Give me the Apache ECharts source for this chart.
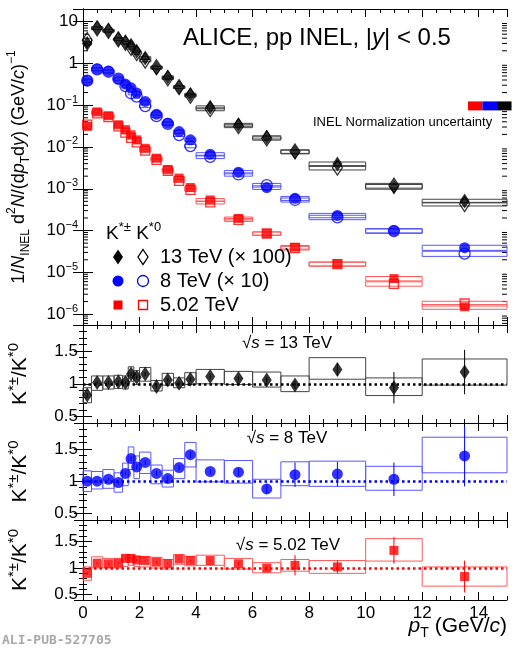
<!DOCTYPE html>
<html>
<head>
<meta charset="UTF-8">
<title>K*(892) charged / neutral, pp</title>
<script src="https://cdn.jsdelivr.net/npm/echarts@6/dist/echarts.min.js"></script>
<style>
  html, body { margin: 0; padding: 0; background: #fff; }
  #chart { width: 527px; height: 650px; }
</style>
</head>
<body>
<div id="chart"></div>
<script>
var FONT = 'Liberation Sans';

// pT bins (GeV/c)
var binLo = [0, 0.3, 0.7, 1.1, 1.4, 1.6, 1.8, 2.0, 2.4, 2.8, 3.2, 3.6, 4, 5, 6, 7, 8, 10, 12];
var binHi = [0.3, 0.7, 1.1, 1.4, 1.6, 1.8, 2.0, 2.4, 2.8, 3.2, 3.6, 4, 5, 6, 7, 8, 10, 12, 15];
var ptMid = [0.15, 0.5, 0.9, 1.25, 1.5, 1.7, 1.9, 2.2, 2.6, 3.0, 3.4, 3.8, 4.5, 5.5, 6.5, 7.5, 9, 11, 13.5];

// spectra as drawn (13 TeV x100, 8 TeV x10, 5.02 TeV x1)
var kch13 = [3.0, 7.0, 6.1, 3.85, 3.2, 2.7, 1.94, 1.35, 0.78, 0.47, 0.27, 0.18, 0.089, 0.034, 0.017, 0.0076, 0.0039, 0.00112, 0.00051];
var kz13  = [3.6, 6.9, 6.0, 3.75, 3.1, 2.35, 1.76, 1.17, 0.81, 0.44, 0.27, 0.168, 0.080, 0.0315, 0.016, 0.0078, 0.0032, 0.00119, 0.00043];
var kch8  = [0.385, 0.73, 0.65, 0.42, 0.32, 0.26, 0.195, 0.123, 0.061, 0.037, 0.0234, 0.0148, 0.0067, 0.0025, 0.00107, 0.00059, 0.00023, 0.0001, 0.000039];
var kz8   = [0.385, 0.72, 0.63, 0.43, 0.286, 0.193, 0.16, 0.095, 0.0545, 0.0356, 0.0193, 0.0105, 0.0058, 0.0022, 0.00122, 0.00054, 0.000207, 0.000097, 0.000028];
var kch5  = [0.031, 0.069, 0.056, 0.034, 0.026, 0.0195, 0.0148, 0.0093, 0.0054, 0.0029, 0.0018, 0.00107, 0.00054, 0.000195, 0.000085, 0.00004, 0.000016, 0.0000071, 0.0000015];
var kz5   = [0.0344, 0.0633, 0.0519, 0.0312, 0.022, 0.0165, 0.0129, 0.0082, 0.0049, 0.0027, 0.00154, 0.00094, 0.00047, 0.00018, 0.000085, 0.000038, 0.0000157, 0.0000053, 0.0000018];
// relative systematic uncertainty of the spectra
var sys13 = [0.08, 0.07, 0.07, 0.07, 0.07, 0.07, 0.07, 0.07, 0.07, 0.07, 0.07, 0.07, 0.08, 0.08, 0.09, 0.10, 0.12, 0.13, 0.10];
var sys8  = [0.09, 0.08, 0.08, 0.08, 0.08, 0.08, 0.08, 0.08, 0.08, 0.08, 0.08, 0.09, 0.09, 0.09, 0.10, 0.11, 0.12, 0.12, 0.14];
var sys5  = [0.09, 0.07, 0.07, 0.07, 0.07, 0.07, 0.07, 0.07, 0.07, 0.07, 0.07, 0.07, 0.08, 0.08, 0.09, 0.10, 0.11, 0.12, 0.13];

// ratios K*+-/K*0
var ratio13    = [0.83, 1.02, 1.02, 1.03, 1.02, 1.15, 1.10, 1.15, 0.96, 1.06, 1.01, 1.07, 1.11, 1.08, 1.06, 0.98, 1.22, 0.94, 1.18];
var ratio13Lo  = [0.71, 0.90, 0.92, 0.93, 0.92, 1.04, 0.99, 1.04, 0.89, 0.98, 0.94, 0.99, 1.00, 0.99, 0.95, 0.88, 1.07, 0.82, 0.98];
var ratio13Hi  = [0.94, 1.12, 1.12, 1.13, 1.12, 1.26, 1.20, 1.25, 1.05, 1.16, 1.09, 1.17, 1.22, 1.19, 1.18, 1.12, 1.40, 1.09, 1.38];
var ratio13Err = [0.03, 0.02, 0.02, 0.02, 0.02, 0.03, 0.03, 0.03, 0.03, 0.03, 0.03, 0.03, 0.03, 0.03, 0.04, 0.06, 0.10, 0.24, 0.34];

var ratio8    = [1.00, 1.00, 1.03, 0.98, 1.12, 1.35, 1.22, 1.29, 1.12, 1.04, 1.21, 1.41, 1.15, 1.14, 0.88, 1.10, 1.11, 1.03, 1.39];
var ratio8Lo  = [0.84, 0.88, 0.89, 0.83, 0.93, 1.18, 1.04, 1.12, 0.96, 0.91, 1.04, 1.22, 0.99, 0.97, 0.74, 0.93, 0.92, 0.86, 1.13];
var ratio8Hi  = [1.16, 1.15, 1.18, 1.13, 1.28, 1.53, 1.39, 1.45, 1.25, 1.17, 1.35, 1.60, 1.33, 1.32, 1.03, 1.30, 1.31, 1.23, 1.68];
var ratio8Err = [0.02, 0.02, 0.02, 0.03, 0.03, 0.04, 0.04, 0.04, 0.04, 0.04, 0.04, 0.05, 0.04, 0.06, 0.07, 0.19, 0.19, 0.26, 0.47];

var ratio5    = [0.90, 1.09, 1.08, 1.09, 1.18, 1.18, 1.15, 1.14, 1.11, 1.08, 1.17, 1.14, 1.14, 1.08, 1.00, 1.05, 1.02, 1.33, 0.84];
var ratio5Lo  = [0.77, 1.00, 1.00, 1.00, 1.03, 1.05, 1.03, 1.02, 1.00, 0.98, 1.07, 1.04, 1.05, 0.98, 0.91, 0.94, 0.90, 1.13, 0.66];
var ratio5Hi  = [1.02, 1.21, 1.18, 1.18, 1.23, 1.24, 1.22, 1.21, 1.20, 1.16, 1.25, 1.22, 1.24, 1.18, 1.10, 1.16, 1.14, 1.55, 1.02];
var ratio5Err = [0.03, 0.02, 0.02, 0.02, 0.02, 0.02, 0.02, 0.02, 0.02, 0.02, 0.02, 0.02, 0.02, 0.04, 0.05, 0.19, 0.12, 0.25, 0.30];

// INEL normalization uncertainty boxes (5.02, 8, 13 TeV)
var normColor = ['#ff0000', '#0000ff', '#000000'];
var normXLo = [13.62, 14.13, 14.65];
var normXHi = [14.13, 14.65, 15.16];
var normYLo = [0.075, 0.075, 0.075];
var normYHi = [0.123, 0.123, 0.123];

var yLogMin = 5.5e-7, yLogMax = 20;
var ratioMin = 0.4, ratioMax = 1.9;

var BLACK = '#000000', BLUE = '#0000ff', RED = '#ff0000';
var BOX_BLACK = '#444444', BOX_BLUE = '#5858ff', BOX_RED = '#ff5a5a';

function rich(size, supScale) {
  var s = Math.round(size * (supScale || 0.65));
  return {
    i:   { fontFamily: FONT, fontSize: size, fontStyle: 'italic', lineHeight: size + 8 },
    sup: { fontFamily: FONT, fontSize: s, lineHeight: s, verticalAlign: 'top' },
    sub: { fontFamily: FONT, fontSize: s, lineHeight: s, verticalAlign: 'bottom' }
  };
}

var grids = [
  { left: 83, right: 20, top: 9, height: 316 },
  { left: 83, right: 20, top: 325, height: 98 },
  { left: 83, right: 20, top: 423, height: 97 },
  { left: 83, right: 20, top: 520, height: 80 }
];
grids.forEach(function (g) { g.outerBoundsMode = 'none'; g.containLabel = false; });

var tickColor = { color: '#000', width: 1 };

function xAxisMajor(gi, pos, labels) {
  return {
    type: 'value', gridIndex: gi, position: pos, min: 0, max: 15, interval: 2,
    axisLine: { show: true, onZero: false, lineStyle: tickColor },
    axisTick: { show: true, inside: true, length: 8, lineStyle: tickColor },
    splitLine: { show: false },
    axisLabel: { show: labels, showMaxLabel: false, fontSize: 17, fontFamily: FONT, color: '#000', margin: 5 }
  };
}
function xAxisMinor(gi, pos) {
  return {
    type: 'value', gridIndex: gi, position: pos, min: 0, max: 15, interval: 0.5,
    axisLine: { show: false, onZero: false },
    axisTick: { show: true, inside: true, length: 4, lineStyle: tickColor },
    splitLine: { show: false }, axisLabel: { show: false }
  };
}
function yAxisLog(pos, labels) {
  return {
    type: 'log', logBase: 10, gridIndex: 0, position: pos, min: yLogMin, max: yLogMax,
    axisLine: { show: true, lineStyle: tickColor },
    axisTick: { show: true, inside: true, length: 10, lineStyle: tickColor },
    splitLine: { show: false }, minorTick: { show: false },
    name: labels ? '1/{i|N}{sub|INEL} d{sup|2}{i|N}/(d{i|p}{sub|T}d{i|y}) (GeV/{i|c}){sup|−1}' : '',
    nameLocation: 'middle', nameRotate: 90, nameGap: 51,
    nameTextStyle: { fontFamily: FONT, fontSize: 18, color: '#000', lineHeight: 26, rich: rich(18) },
    axisLabel: {
      show: labels, showMinLabel: false, showMaxLabel: false, margin: 5,
      fontFamily: FONT, fontSize: 17, color: '#000', lineHeight: 22, rich: rich(17),
      formatter: function (v) {
        var e = Math.round(Math.log10(v));
        if (e === 0) return '1';
        if (e === 1) return '10';
        return '10{sup|' + (e < 0 ? '−' : '') + Math.abs(e) + '}';
      }
    }
  };
}
function yAxisRatioMajor(gi, pos, labels) {
  return {
    type: 'value', gridIndex: gi, position: pos, min: ratioMin, max: ratioMax, splitNumber: 3,
    axisLine: { show: true, lineStyle: tickColor },
    axisTick: { show: true, inside: true, length: 9, lineStyle: tickColor },
    splitLine: { show: false },
    name: labels ? 'K{sup|*±}/K{sup|*0}' : '',
    nameLocation: 'middle', nameRotate: 90, nameGap: 49,
    nameTextStyle: { fontFamily: FONT, fontSize: 21, color: '#000', lineHeight: 28, rich: rich(21, 0.72) },
    axisLabel: { show: labels, showMinLabel: false, showMaxLabel: false, margin: 5, fontFamily: FONT, fontSize: 17, color: '#000' }
  };
}
function yAxisRatioMinor(gi, pos) {
  return {
    type: 'value', gridIndex: gi, position: pos, min: ratioMin, max: ratioMax, interval: 0.1,
    axisLine: { show: false },
    axisTick: { show: true, inside: true, length: 4, lineStyle: tickColor },
    splitLine: { show: false }, axisLabel: { show: false }
  };
}

var xAxes = [], yAxes = [], ref = [];
grids.forEach(function (g, i) {
  var xi = xAxes.length, yi = yAxes.length;
  xAxes.push(xAxisMajor(i, 'bottom', i === 3), xAxisMinor(i, 'bottom'), xAxisMajor(i, 'top', false), xAxisMinor(i, 'top'));
  if (i === 0) {
    yAxes.push(yAxisLog('left', true), yAxisLog('right', false));
  } else {
    yAxes.push(yAxisRatioMajor(i, 'left', true), yAxisRatioMinor(i, 'left'), yAxisRatioMajor(i, 'right', false), yAxisRatioMinor(i, 'right'));
  }
  ref.push({ x: xi, y: yi });
});

function boxRender(color) {
  return function (params, api) {
    var a = api.coord([api.value(0), api.value(3)]);
    var b = api.coord([api.value(1), api.value(2)]);
    return {
      type: 'rect',
      shape: { x: a[0], y: a[1], width: b[0] - a[0], height: b[1] - a[1] },
      style: { fill: 'none', stroke: color, lineWidth: 1 }
    };
  };
}
function boxSeries(gi, lo, hi, color) {
  return {
    type: 'custom', xAxisIndex: ref[gi].x, yAxisIndex: ref[gi].y, z: 2, silent: true,
    encode: { x: [0, 1], y: [2, 3] },
    data: binLo.map(function (b, k) { return [b, binHi[k], lo[k], hi[k]]; }),
    renderItem: boxRender(color)
  };
}
function relBoxSeries(vals, rel, color) {
  return boxSeries(0,
    vals.map(function (v, k) { return v * (1 - rel[k]); }),
    vals.map(function (v, k) { return v * (1 + rel[k]); }), color);
}
function errSeries(gi, vals, err, color) {
  return {
    type: 'custom', xAxisIndex: ref[gi].x, yAxisIndex: ref[gi].y, z: 3, silent: true,
    encode: { x: 0, y: [1, 2] },
    data: ptMid.map(function (p, k) { return [p, vals[k] - err[k], vals[k] + err[k]]; }),
    renderItem: function (params, api) {
      var a = api.coord([api.value(0), api.value(1)]);
      var b = api.coord([api.value(0), api.value(2)]);
      return { type: 'line', shape: { x1: a[0], y1: a[1], x2: b[0], y2: b[1] }, style: { stroke: color, lineWidth: 1 } };
    }
  };
}
function markers(gi, vals, symbol, size, color, open, withLine) {
  var s = {
    type: 'scatter', xAxisIndex: ref[gi].x, yAxisIndex: ref[gi].y, z: open ? 4 : 5, silent: true,
    symbol: symbol, symbolSize: size,
    data: ptMid.map(function (p, k) { return [p, vals[k]]; }),
    itemStyle: open ? { color: 'rgba(0,0,0,0)', borderColor: color, borderWidth: 1.3 } : { color: color, borderWidth: 0 }
  };
  if (withLine) {
    s.markLine = {
      silent: true, symbol: 'none', label: { show: false }, animation: false,
      lineStyle: { color: color, width: 2.5, type: [2.5, 3] },
      data: [{ yAxis: 1 }]
    };
  }
  return s;
}

var DIAM = [10, 15];

var series = [
  relBoxSeries(kch13, sys13, BOX_BLACK), relBoxSeries(kz13, sys13, BOX_BLACK),
  relBoxSeries(kch8, sys8, BOX_BLUE), relBoxSeries(kz8, sys8, BOX_BLUE),
  relBoxSeries(kch5, sys5, BOX_RED), relBoxSeries(kz5, sys5, BOX_RED),
  markers(0, kz13, 'diamond', DIAM, BLACK, true), markers(0, kch13, 'diamond', DIAM, BLACK, false),
  markers(0, kz8, 'circle', 11, BLUE, true), markers(0, kch8, 'circle', 11, BLUE, false),
  markers(0, kz5, 'rect', 9, RED, true), markers(0, kch5, 'rect', 9, RED, false),

  boxSeries(1, ratio13Lo, ratio13Hi, BOX_BLACK), errSeries(1, ratio13, ratio13Err, BLACK),
  markers(1, ratio13, 'diamond', DIAM, BLACK, false, true),
  boxSeries(2, ratio8Lo, ratio8Hi, BOX_BLUE), errSeries(2, ratio8, ratio8Err, BLUE),
  markers(2, ratio8, 'circle', 11, BLUE, false, true),
  boxSeries(3, ratio5Lo, ratio5Hi, BOX_RED), errSeries(3, ratio5, ratio5Err, RED),
  markers(3, ratio5, 'rect', 9, RED, false, true),

  // normalization uncertainty boxes
  {
    type: 'custom', xAxisIndex: 0, yAxisIndex: 0, z: 6, silent: true, clip: false,
    encode: { x: [0, 1], y: [2, 3] },
    data: normColor.map(function (c, k) { return [normXLo[k], normXHi[k], normYLo[k], normYHi[k]]; }),
    renderItem: function (params, api) {
      var a = api.coord([api.value(0), api.value(3)]);
      var b = api.coord([api.value(1), api.value(2)]);
      return { type: 'rect', shape: { x: a[0], y: a[1], width: b[0] - a[0], height: b[1] - a[1] }, style: { fill: normColor[params.dataIndex] } };
    }
  }
];

// log-axis minor ticks (2..9 per decade), left and right edges
var logMinor = [];
for (var k = -7; k <= 1; k++) {
  for (var m = 2; m <= 9; m++) {
    var v = m * Math.pow(10, k);
    if (v > yLogMin && v < yLogMax) logMinor.push([v]);
  }
}
series.push({
  type: 'custom', xAxisIndex: 0, yAxisIndex: 0, z: 1, silent: true,
  encode: { y: 0 },
  data: logMinor,
  renderItem: function (params, api) {
    var l = api.coord([0, api.value(0)]);
    var r = api.coord([15, api.value(0)]);
    return {
      type: 'group', children: [
        { type: 'line', shape: { x1: l[0], y1: l[1], x2: l[0] + 5, y2: l[1] }, style: { stroke: '#000', lineWidth: 1 } },
        { type: 'line', shape: { x1: r[0], y1: r[1], x2: r[0] - 5, y2: r[1] }, style: { stroke: '#000', lineWidth: 1 } }
      ]
    };
  }
});

function txt(x, y, text, size, opts) {
  opts = opts || {};
  return {
    type: 'text', x: x, y: y, z: 100, silent: true,
    style: {
      text: text, fill: opts.fill || '#000', fontFamily: opts.family || FONT, fontSize: size,
      fontWeight: opts.weight || 'normal', align: opts.align || 'left', verticalAlign: 'middle',
      lineHeight: size + 8, rich: rich(size, opts.sup)
    }
  };
}
function diamond(cx, cy, color, open) {
  return {
    type: 'polygon', z: 100, silent: true,
    shape: { points: [[cx, cy - 7.5], [cx + 5, cy], [cx, cy + 7.5], [cx - 5, cy]] },
    style: open ? { fill: 'none', stroke: color, lineWidth: 1.3 } : { fill: color }
  };
}

var graphics = [
  txt(183, 38, 'ALICE, pp INEL, |{i|y}| < 0.5', 24),
  txt(313, 122, 'INEL Normalization uncertainty', 13),
  txt(106, 234, 'K{sup|*±} K{sup|*0}', 19, { sup: 0.7 }),
  diamond(118, 257, BLACK, false), diamond(143, 257, BLACK, true),
  { type: 'circle', z: 100, silent: true, shape: { cx: 118, cy: 281, r: 5.5 }, style: { fill: BLUE } },
  { type: 'circle', z: 100, silent: true, shape: { cx: 143, cy: 281, r: 5.5 }, style: { fill: 'none', stroke: BLUE, lineWidth: 1.3 } },
  { type: 'rect', z: 100, silent: true, shape: { x: 113.5, y: 300.5, width: 9, height: 9 }, style: { fill: RED } },
  { type: 'rect', z: 100, silent: true, shape: { x: 138.5, y: 300.5, width: 9, height: 9 }, style: { fill: 'none', stroke: RED, lineWidth: 1.3 } },
  txt(160, 257, '13 TeV (× 100)', 20),
  txt(160, 281, '8 TeV (× 10)', 20),
  txt(160, 305, '5.02 TeV', 20),
  txt(287, 343, '√{i|s} = 13 TeV', 17, { align: 'center' }),
  txt(287, 438, '√{i|s} = 8 TeV', 17, { align: 'center' }),
  txt(288, 545, '√{i|s} = 5.02 TeV', 17, { align: 'center' }),
  txt(507, 626, '{i|p}{sub|T} (GeV/{i|c})', 21, { align: 'right' }),
  txt(2, 641, 'ALI-PUB-527705', 13, { family: 'DejaVu Sans Mono', weight: 'bold', fill: '#a8a8a8' })
];

var chart = echarts.init(document.getElementById('chart'), null, { renderer: 'canvas' });
chart.setOption({
  animation: false,
  backgroundColor: '#fff',
  grid: grids,
  xAxis: xAxes,
  yAxis: yAxes,
  series: series,
  graphic: graphics
});
</script>
</body>
</html>
